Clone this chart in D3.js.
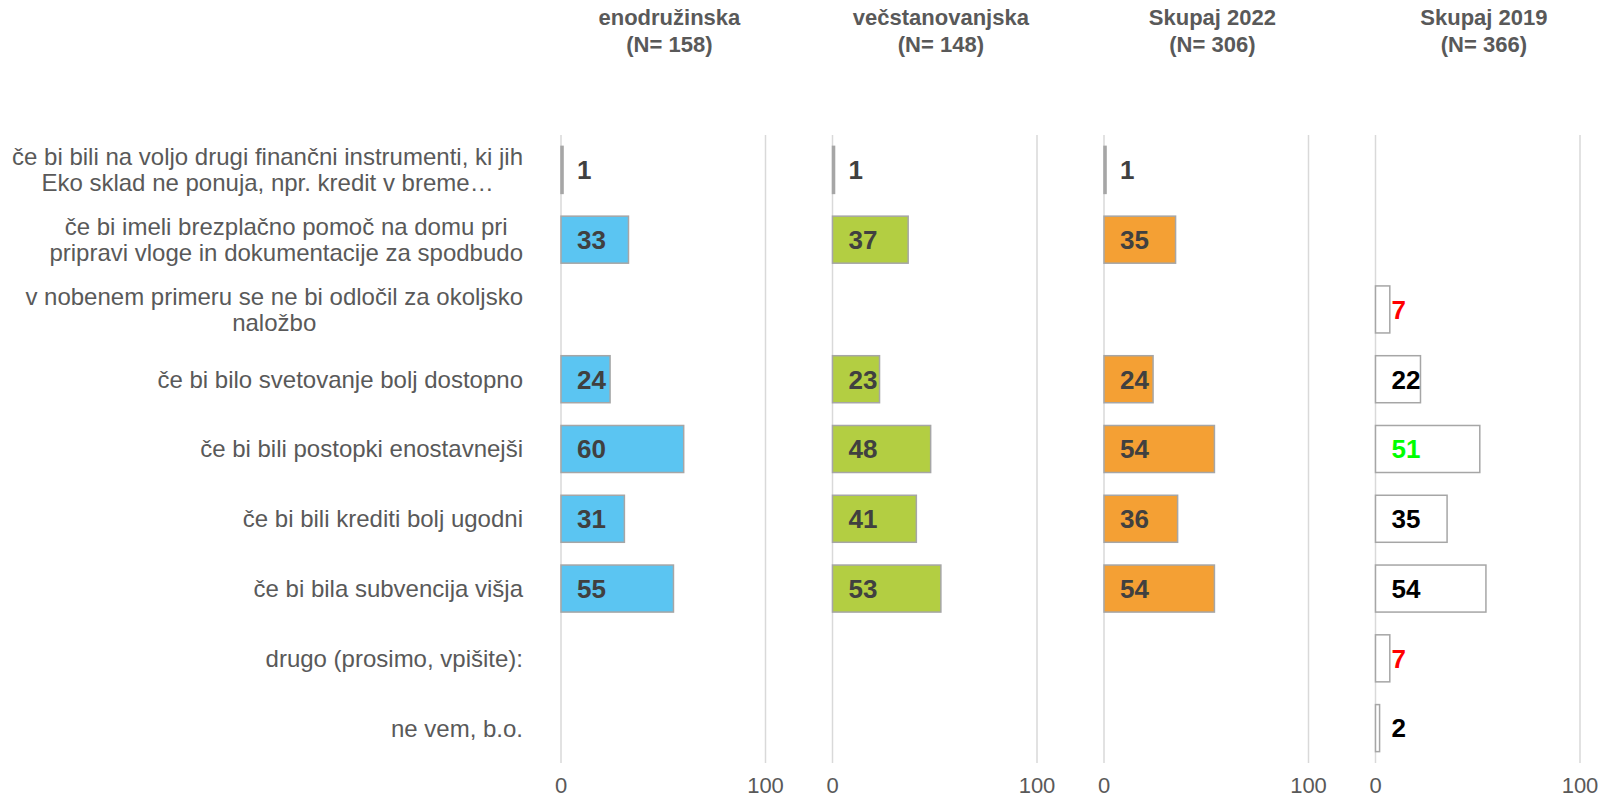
<!DOCTYPE html>
<html>
<head>
  <meta charset="utf-8">
  <script src="https://d3js.org/d3.v7.min.js"></script>
  <style>
    body { margin: 0; background: #fff; }
    svg { display: block; font-family: "Liberation Sans", Arial, sans-serif; }
  </style>
</head>
<body>
  <div id="chart"></div>
  <script>
    // categories, top to bottom (label lines split where the original wraps)
    var categories = [
      ["če bi bili na voljo drugi finančni instrumenti, ki jih", "Eko sklad ne ponuja, npr. kredit v breme…"],
      ["če bi imeli brezplačno pomoč na domu pri", "pripravi vloge in dokumentacije za spodbudo"],
      ["v nobenem primeru se ne bi odločil za okoljsko", "naložbo"],
      ["če bi bilo svetovanje bolj dostopno"],
      ["če bi bili postopki enostavnejši"],
      ["če bi bili krediti bolj ugodni"],
      ["če bi bila subvencija višja"],
      ["drugo (prosimo, vpišite):"],
      ["ne vem, b.o."]
    ];

    var titles = [
      ["enodružinska", "(N= 158)"],
      ["večstanovanjska", "(N= 148)"],
      ["Skupaj 2022", "(N= 306)"],
      ["Skupaj 2019", "(N= 366)"]
    ];

    // series values (null = no bar)
    var enodruzinska    = [1, 33, null, 24, 60, 31, 55, null, null];
    var vecstanovanjska = [1, 37, null, 23, 48, 41, 53, null, null];
    var skupaj2022      = [1, 35, null, 24, 54, 36, 54, null, null];
    var skupaj2019      = [null, null, 7, 22, 51, 35, 54, 7, 2];

    var tickValues = [0, 100];

    // styling
    var fills = ["#5BC5F2", "#B3CE42", "#F4A034", "#FFFFFF"];
    var labelColors = ["#404040", "#404040", "#404040", "#000000"];
    // 2019 labels with highlighted colours (by row index)
    var highlight2019 = { 2: "#FF0000", 4: "#00FF00", 7: "#FF0000" };

    var series = [enodruzinska, vecstanovanjska, skupaj2022, skupaj2019];

    var width = 1601, height = 797;
    var panelLeft = 561, panelStep = 271.5, panelW = 204.5;
    var labelRight = 523;

    var svg = d3.select('#chart')
      .append('svg')
      .attr('width', width)
      .attr('height', height);

    var y = d3.scaleBand()
      .domain(d3.range(categories.length))
      .range([135, 763])
      .paddingInner(0.326)
      .paddingOuter(0.163);

    var x = d3.scaleLinear().domain([0, 100]).range([0, panelW]);

    // category labels, block right-aligned, lines centred within block
    var catG = svg.append('g');
    categories.forEach(function(lines, i) {
      var lh = 26;
      var cy = y(i) + y.bandwidth() / 2;
      var t = catG.append('text')
        .attr('font-size', 24)
        .attr('fill', '#595959')
        .attr('text-anchor', 'middle');
      var spans = lines.map(function(l, j) {
        return t.append('tspan')
          .attr('y', cy + (j - (lines.length - 1) / 2) * lh)
          .attr('dy', '0.35em')
          .text(l);
      });
      var maxW = d3.max(spans, function(s) { return s.node().getComputedTextLength(); });
      spans.forEach(function(s) { s.attr('x', labelRight - maxW / 2); });
    });

    series.forEach(function(vals, p) {
      var g = svg.append('g')
        .attr('transform', 'translate(' + (panelLeft + p * panelStep) + ',0)');

      // gridlines at 0 and 100
      g.selectAll('.grid')
        .data(tickValues).enter()
        .append('line')
        .attr('x1', function(d) { return x(d); })
        .attr('x2', function(d) { return x(d); })
        .attr('y1', y.range()[0])
        .attr('y2', y.range()[1])
        .attr('stroke', '#D9D9D9')
        .attr('stroke-width', 1.5);

      // axis tick labels
      g.selectAll('.tick')
        .data(tickValues).enter()
        .append('text')
        .attr('x', function(d) { return x(d); })
        .attr('y', 793)
        .attr('text-anchor', 'middle')
        .attr('font-size', 22)
        .attr('fill', '#595959')
        .text(function(d) { return d; });

      var rows = vals.map(function(v, i) { return { i: i, v: v }; })
        .filter(function(d) { return d.v != null; });

      g.selectAll('.bar')
        .data(rows).enter()
        .append('rect')
        .attr('x', x(0))
        .attr('y', function(d) { return y(d.i); })
        .attr('width', function(d) { return x(d.v) - x(0); })
        .attr('height', y.bandwidth())
        .attr('fill', function(d) { return d.v < 2 ? '#A6A6A6' : fills[p]; })
        .attr('stroke', '#A6A6A6')
        .attr('stroke-width', 1.5);

      g.selectAll('.val')
        .data(rows).enter()
        .append('text')
        .attr('x', x(0) + 16)
        .attr('y', function(d) { return y(d.i) + y.bandwidth() / 2; })
        .attr('dy', '0.36em')
        .attr('font-size', 26)
        .attr('font-weight', 'bold')
        .attr('fill', function(d) {
          if (p == 3 && highlight2019[d.i]) return highlight2019[d.i];
          return labelColors[p];
        })
        .text(function(d) { return d.v; });

      // panel title
      var tt = g.append('text')
        .attr('text-anchor', 'middle')
        .attr('font-size', 22)
        .attr('font-weight', 'bold')
        .attr('fill', '#595959');
      titles[p].forEach(function(l, j) {
        tt.append('tspan')
          .attr('x', panelW * 0.53)
          .attr('y', 25 + j * 27)
          .text(l);
      });
    });
  </script>
</body>
</html>
